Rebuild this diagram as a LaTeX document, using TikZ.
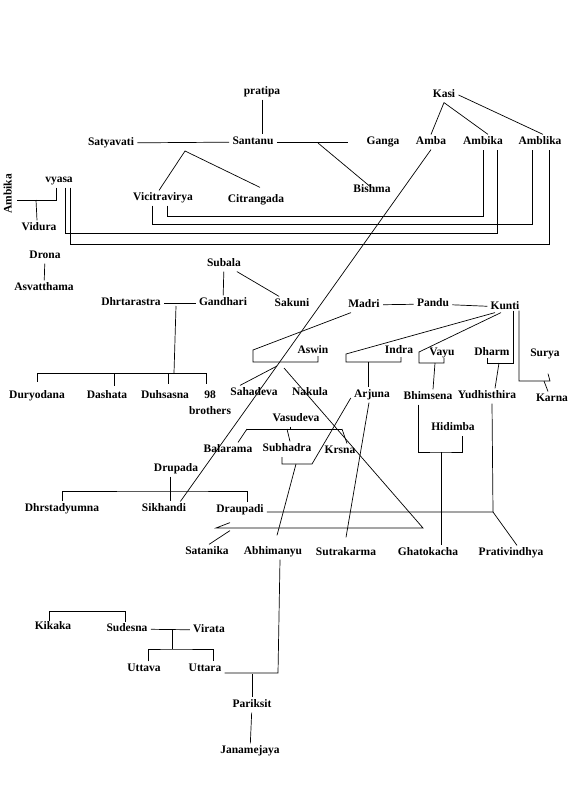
\documentclass[tikz,border=0pt]{standalone}
\usepackage{fontspec}
\setmainfont{Liberation Serif}
\tikzset{
  kin/.style={font=\bfseries\fontsize{11.5}{13}\selectfont, inner xsep=3pt, inner ysep=2pt,
    text height=8pt, text depth=2.5pt},
}
\begin{document}
\begin{tikzpicture}[x=1pt, y=-1pt, line width=0.7pt]
  \useasboundingbox (0,0) rectangle (576,792);
  % Santanu and Kasi
  \node[kin] (pratipa) at (262,92) {pratipa};
  \node[kin] (santanu) at (253,142) {Santanu};
  \node[kin] (satyavati) at (111,143) {Satyavati};
  \node[kin] (ganga) at (383,142) {Ganga};
  \node[kin] (kasi) at (444,95) {Kasi};
  \node[kin] (amba) at (431,142) {Amba};
  \node[kin] (ambika) at (483,142) {Ambika};
  \node[kin] (amblika) at (540,142) {Amblika};
  \node[kin] (bishma) at (372,190) {Bishma};
  \node[kin] (vicitravirya) at (163,198) {Vicitravirya};
  \node[kin] (citrangada) at (256,200) {Citrangada};
  \node[kin] (vyasa) at (59,180) {vyasa};
  \node[kin, rotate=90] (ambikaV) at (9,194) {Ambika};
  \node[kin] (vidura) at (39,228) {Vidura};
  \node[kin] (drona) at (45,256) {Drona};
  \node[kin] (asvatthama) at (44,288) {Asvatthama};
  % Kauravas
  \node[kin] (subala) at (224,264) {Subala};
  \node[kin] (gandhari) at (223,303) {Gandhari};
  \node[kin] (sakuni) at (292,304) {Sakuni};
  \node[kin] (dhrtarastra) at (131,303) {Dhrtarastra};
  \node[kin] (duryodana) at (37,396) {Duryodana};
  \node[kin] (dashata) at (107,396) {Dashata};
  \node[kin] (duhsasna) at (165,396) {Duhsasna};
  \node[kin] (n98) at (210,396) {98};
  \node[kin] (brothers) at (210,412) {brothers};
  % Pandavas
  \node[kin] (madri) at (364,305) {Madri};
  \node[kin] (pandu) at (433,304) {Pandu};
  \node[kin] (kunti) at (505,307) {Kunti};
  \node[kin] (aswin) at (313,351) {Aswin};
  \node[kin] (indra) at (399,351) {Indra};
  \node[kin] (vayu) at (442,353) {Vayu};
  \node[kin] (dharm) at (492,353) {Dharm};
  \node[kin] (surya) at (545,354) {Surya};
  \node[kin] (sahadeva) at (254,393) {Sahadeva};
  \node[kin] (nakula) at (310,393) {Nakula};
  \node[kin] (arjuna) at (372,395) {Arjuna};
  \node[kin] (bhimsena) at (428,397) {Bhimsena};
  \node[kin] (yudhisthira) at (487,396) {Yudhisthira};
  \node[kin] (karna) at (552,399) {Karna};
  \node[kin] (vasudeva) at (296,419) {Vasudeva};
  \node[kin] (hidimba) at (453,428) {Hidimba};
  \node[kin] (balarama) at (228,450) {Balarama};
  \node[kin] (subhadra) at (287,449) {Subhadra};
  \node[kin] (krsna) at (340,451) {Krsna};
  \node[kin] (drupada) at (176,469) {Drupada};
  \node[kin] (dhrstadyumna) at (62,509) {Dhrstadyumna};
  \node[kin] (sikhandi) at (164,509) {Sikhandi};
  \node[kin] (draupadi) at (240,510) {Draupadi};
  \node[kin] (satanika) at (207,552) {Satanika};
  \node[kin] (abhimanyu) at (273,552) {Abhimanyu};
  \node[kin] (sutrakarma) at (346,553) {Sutrakarma};
  \node[kin] (ghatokacha) at (428,553) {Ghatokacha};
  \node[kin] (prativindhya) at (511,553) {Prativindhya};
  % Virata
  \node[kin] (kikaka) at (53,627) {Kikaka};
  \node[kin] (sudesna) at (127,629) {Sudesna};
  \node[kin] (virata) at (209,630) {Virata};
  \node[kin] (uttava) at (144,669) {Uttava};
  \node[kin] (uttara) at (205,669) {Uttara};
  \node[kin] (pariksit) at (252,705) {Pariksit};
  \node[kin] (janamejaya) at (250,751) {Janamejaya};

  % junctions
  \coordinate (sj) at (185,151);
  \coordinate (gj) at (318,143);
  \coordinate (vj) at (36,200);
  \coordinate (dg) at (176,306);
  \coordinate (kb) at (174,373);
  \coordinate (awL) at (253,350);
  \coordinate (awR) at (318,362);
  \coordinate (sahTop) at (277,366);
  \coordinate (nakTop) at (284,368);
  \coordinate (triR) at (423,528);
  \coordinate (triL) at (216,528);
  \coordinate (inL) at (346,354);
  \coordinate (inR) at (401,362);
  \coordinate (arT) at (368,362);
  \coordinate (shR) at (312,464);
  \coordinate (shL) at (282,464);
  \coordinate (shM) at (296,464);
  \coordinate (vyL) at (419,352);
  \coordinate (vyR) at (444,363);
  \coordinate (vyM) at (435,363);
  \coordinate (hb) at (441,452);
  \coordinate (dhB) at (487,363);
  \coordinate (suB) at (550,381);
  \coordinate (pv) at (493,512);
  \coordinate (dpB) at (170,491);
  \coordinate (vb) at (290,429);
  \coordinate (vbL) at (247,429);
  \coordinate (vbR) at (342,429);
  \coordinate (up) at (278,673);
  \coordinate (pj) at (252,674);
  \coordinate (svB) at (172,649);

  % Santanu line
  \draw (pratipa.south) -- (pratipa.south |- santanu.north);
  \draw (satyavati) -- (santanu);
  \draw (santanu.east) -- ([xshift=-15pt]ganga.west);
  \draw ([xshift=-4pt]vicitravirya.north) -- (sj) -- ([xshift=4pt,yshift=5pt]citrangada.north);
  \draw (gj) -- ([xshift=-2pt,yshift=-4pt]bishma.north);
  \draw (kasi.south) -- (amba.north);
  \draw (kasi.south) -- ([xshift=5pt]ambika.north);
  \draw (kasi.east) -- ([xshift=3pt]amblika.north);
  \draw (amba.south) -- ([xshift=-9pt]sikhandi.north east);
  % marriages of the Kasi daughters
  \draw ([xshift=4pt]vicitravirya.south) -- ++(0,11) -| (ambika.south);
  \draw ([xshift=-11pt]vicitravirya.south) -- ++(0,18.5) -| ([xshift=-8pt]amblika.south);
  \draw ([xshift=6pt]vyasa.south) -- ++(0,45.5) -| ([xshift=14pt]ambika.south);
  \draw ([xshift=11pt]vyasa.south) -- ++(0,56.5) -| ([xshift=9pt]amblika.south);
  \draw ([xshift=-3pt]vyasa.south) |- ([yshift=-6pt]ambikaV.south);
  \draw (vj) -- ([xshift=-2pt]vidura.north);
  \draw (drona) -- (asvatthama);
  % Kauravas
  \draw (subala) -- (gandhari);
  \draw (subala) -- (sakuni);
  \draw (dhrtarastra) -- (gandhari);
  \draw (dg) -- (kb);
  \draw (duryodana.north |- kb) -- ([xshift=-4pt]n98.north |- kb);
  \foreach \k/\dx/\dy in {duryodana/0/6, dashata/7/2, duhsasna/3/4, n98/-4/4}
    \draw ([xshift=\dx pt]\k.north |- kb) -- ([xshift=\dx pt,yshift=\dy pt]\k.north);
  % Pandavas
  \draw (madri) -- (pandu);
  \draw (pandu) -- (kunti);
  \draw ([xshift=6pt]madri.south west) -- (awL) |- (awR) -- ++(0,-6);
  \draw (sahTop) -- ([xshift=13pt]sahadeva.north west);
  \draw (nakTop) -- (triR) -- (triL) -- ([xshift=-10pt,yshift=-5pt]draupadi.south);
  \draw ([xshift=-10pt,yshift=-13pt]draupadi.south) -- ([xshift=2pt]satanika.north);
  \draw ([xshift=-10pt,yshift=2pt]kunti.south) -- (inL) |- (inR) -- ++(0,-5);
  \draw (arT) -- (arT |- arjuna.north);
  \draw ([xshift=-3pt]arjuna.south) -- ([yshift=8pt]sutrakarma.north);
  \draw ([yshift=-3pt]arjuna.west) -- (shR) -- (shL) -- ++(0,-7);
  \draw (shM) -- ([xshift=4pt,yshift=9pt]abhimanyu.north);
  \draw ([xshift=-4pt,yshift=2pt]kunti.south) -- (vyL) |- (vyR) -- ++(0,-5);
  \draw (vyM) -- ([xshift=5pt]bhimsena.north);
  \draw ([xshift=-10pt]bhimsena.south) |- (hb) -| ([xshift=9pt]hidimba.south);
  \draw (hb) -- ([xshift=13pt]ghatokacha.north);
  \draw ([xshift=8pt,yshift=4pt]kunti.south) |- (dhB) -- ++(0,-5);
  \draw ([xshift=12pt]dhB) -- ([xshift=8pt]yudhisthira.north);
  \draw ([xshift=14pt,yshift=4pt]kunti.south) |- (suB) -- ([xshift=3pt,yshift=-12pt]surya.south);
  \draw ([xshift=-6pt]suB) -- ([xshift=-4pt]karna.north);
  \draw ([xshift=5pt]yudhisthira.south) -- (pv);
  \draw ([yshift=-2pt]draupadi.east) -- (pv) -- ([xshift=6pt]prativindhya.north);
  % Vasudeva
  \draw ([xshift=-6pt]vasudeva.south) -- (vb);
  \draw (vbL) -- (vbR);
  \draw (vbL) -- ([xshift=10pt]balarama.north);
  \draw (vbR) -- ([xshift=7pt]krsna.north);
  \draw ([xshift=-3pt]vb) -- ([xshift=3pt]subhadra.north);
  % Drupada
  \draw ([xshift=-6pt]drupada.south) -- ([xshift=-6pt]drupada.south |- sikhandi.north);
  \draw (dhrstadyumna.north) |- (dpB) -| ([xshift=7pt]draupadi.north);
  % Virata and Pariksit
  \draw ([xshift=7pt]abhimanyu.south) -- (up) -- (uttara.east |- up);
  \draw (pj) -- (pariksit.north);
  \draw (pariksit) -- (janamejaya);
  \draw ([xshift=-4pt,yshift=-2pt]kikaka.north) -- ++(0,-10) -| ([xshift=-2pt,yshift=-1pt]sudesna.north);
  \draw (sudesna) -- (virata);
  \draw (sudesna.east -| svB) -- (svB);
  \draw ([xshift=4pt]uttava.north) |- (svB) -| ([xshift=8pt]uttara.north);
\end{tikzpicture}
\end{document}
